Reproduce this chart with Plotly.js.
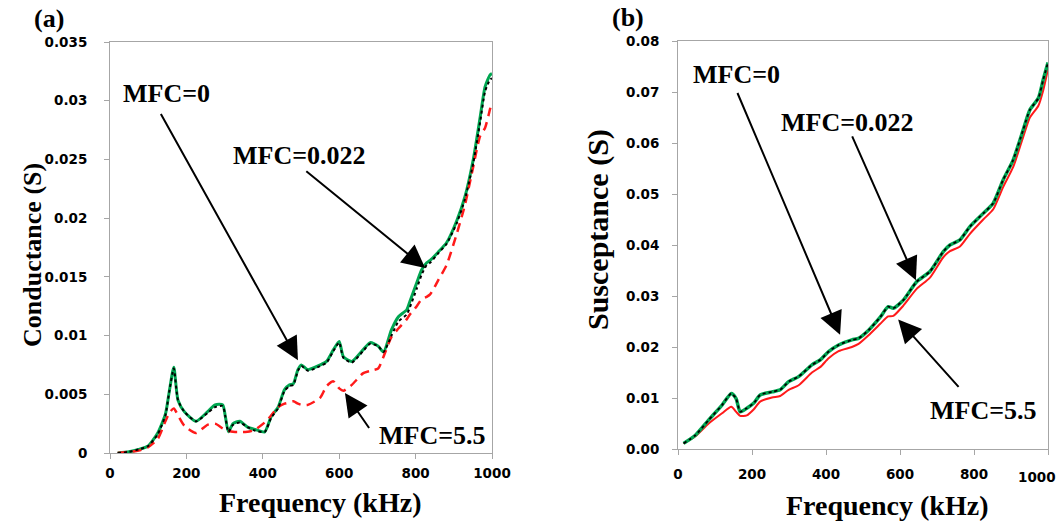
<!DOCTYPE html>
<html>
<head>
<meta charset="utf-8">
<script src="https://cdn.plot.ly/plotly-3.0.1.min.js"></script>
<style>html,body{margin:0;padding:0;background:#fff;}#chart{width:1059px;height:522px;}</style>
</head>
<body>
<div id="chart"></div>
<script>
// ---- Panel (a): Conductance ----
const freqA = [20,50,75,100,125,145,155,167,178,195,225,255,275,295,302,310,322,340,360,380,405,422,440,457,470,480,492,501,518,550,567,585,600,611,633,663,681,702,716,737,755,777,785,803,816,829,838,859,881,908,929,951,969,982,995,1000];
const condMFC022 = [0.0000,0.0001,0.0003,0.0006,0.0017,0.0033,0.0052,0.0073,0.0045,0.0035,0.0027,0.0035,0.0041,0.0041,0.0031,0.0018,0.0025,0.0027,0.0022,0.0020,0.0018,0.0031,0.0039,0.0054,0.0058,0.0059,0.0071,0.0075,0.0071,0.0075,0.0078,0.0088,0.0095,0.0082,0.0078,0.0088,0.0094,0.0091,0.0086,0.0105,0.0116,0.0122,0.0129,0.0145,0.0156,0.0162,0.0164,0.0171,0.0179,0.0198,0.0218,0.0250,0.0286,0.0312,0.0322,0.0323];
const condMFC0 = [0.0000,0.0001,0.0003,0.0006,0.0016,0.0032,0.0052,0.0072,0.0045,0.0035,0.0027,0.0034,0.0039,0.0040,0.0031,0.0018,0.0024,0.0026,0.0022,0.0019,0.0018,0.0030,0.0038,0.0053,0.0057,0.0058,0.0070,0.0074,0.0070,0.0074,0.0077,0.0087,0.0094,0.0081,0.0077,0.0087,0.0093,0.0091,0.0086,0.0100,0.0112,0.0118,0.0124,0.0140,0.0152,0.0160,0.0162,0.0170,0.0178,0.0196,0.0216,0.0247,0.0282,0.0308,0.0318,0.0319];
const condMFC55 = [0.0000,0.0001,0.0002,0.0005,0.0012,0.0027,0.0034,0.0038,0.0032,0.0023,0.0017,0.0024,0.0025,0.0021,0.0020,0.0019,0.0018,0.0018,0.0018,0.0020,0.0026,0.0032,0.0039,0.0042,0.0043,0.0044,0.0042,0.0041,0.0041,0.0047,0.0057,0.0061,0.0055,0.0053,0.0058,0.0068,0.0070,0.0072,0.0082,0.0099,0.0106,0.0114,0.0118,0.0125,0.0131,0.0133,0.0135,0.0147,0.0160,0.0187,0.0211,0.0244,0.0270,0.0277,0.0293,0.0299];

// ---- Panel (b): Susceptance ----
const freqB = [15,47,83,119,144,157,168,186,205,222,254,276,299,326,362,385,407,434,470,488,515,546,568,582,609,645,681,717,735,762,789,825,852,879,906,933,951,974,987,1000];
const suscMFC022 = [0.0011,0.0027,0.0057,0.0086,0.0109,0.0099,0.0073,0.0080,0.0090,0.0106,0.0112,0.0116,0.0132,0.0142,0.0165,0.0175,0.0191,0.0204,0.0214,0.0217,0.0233,0.0258,0.0279,0.0276,0.0292,0.0328,0.0348,0.0387,0.0400,0.0410,0.0436,0.0462,0.0482,0.0528,0.0567,0.0626,0.0665,0.0688,0.0724,0.0758];
const suscMFC0 = [0.0011,0.0027,0.0057,0.0086,0.0109,0.0099,0.0073,0.0080,0.0090,0.0106,0.0112,0.0116,0.0132,0.0142,0.0165,0.0175,0.0191,0.0204,0.0214,0.0217,0.0233,0.0258,0.0279,0.0276,0.0292,0.0328,0.0348,0.0387,0.0400,0.0410,0.0436,0.0462,0.0482,0.0528,0.0567,0.0626,0.0665,0.0688,0.0724,0.0758];
const suscMFC55 = [0.0011,0.0025,0.0050,0.0070,0.0083,0.0073,0.0065,0.0066,0.0078,0.0093,0.0101,0.0104,0.0116,0.0125,0.0150,0.0161,0.0178,0.0192,0.0200,0.0206,0.0223,0.0245,0.0260,0.0261,0.0281,0.0314,0.0336,0.0376,0.0388,0.0397,0.0422,0.0450,0.0470,0.0514,0.0553,0.0612,0.0650,0.0673,0.0703,0.0745];

const xTickVals = [0,200,400,600,800,1000];
const xTickText = ['0','200','400','600','800','1000'];
const xTickTextB = ['0','200','400','600','800',''];
const lastTickB = '1000';
const yTickValsA = [0,0.005,0.01,0.015,0.02,0.025,0.03,0.035];
const yTickTextA = ['0','0.005','0.01','0.015','0.02','0.025','0.03','0.035'];
const yTickValsB = [0,0.01,0.02,0.03,0.04,0.05,0.06,0.07,0.08];
const yTickTextB = ['0.00','0.01','0.02','0.03','0.04','0.05','0.06','0.07','0.08'];

const GREEN = '#00a651', RED = '#ff1a1a', BLACK = '#000000';
const sp = {shape:'spline', smoothing:0.6};

const traces = [
  {x:freqA, y:condMFC022, xaxis:'x', yaxis:'y', mode:'lines', line:Object.assign({color:GREEN, width:3}, sp), name:'MFC=0.022'},
  {x:freqA, y:condMFC55, xaxis:'x', yaxis:'y', mode:'lines', line:Object.assign({color:RED, width:2.5, dash:'9px,6px'}, sp), name:'MFC=5.5'},
  {x:freqA, y:condMFC0, xaxis:'x', yaxis:'y', mode:'lines', line:Object.assign({color:BLACK, width:2, dash:'dot'}, sp), name:'MFC=0'},
  {x:freqB, y:suscMFC55, xaxis:'x2', yaxis:'y2', mode:'lines', line:Object.assign({color:RED, width:2}, sp), name:'MFC=5.5'},
  {x:freqB, y:suscMFC022, xaxis:'x2', yaxis:'y2', mode:'lines', line:Object.assign({color:GREEN, width:3.5}, sp), name:'MFC=0.022'},
  {x:freqB, y:suscMFC0, xaxis:'x2', yaxis:'y2', mode:'lines', line:Object.assign({color:BLACK, width:1.8, dash:'dot'}, sp), name:'MFC=0'}
];

const W = 1059, H = 522;
const px = v => v / W, py = v => 1 - v / H;
const tickFont = {family:'DejaVu Sans', size:13.5, color:'#000', weight:'bold'};
const axisCommon = {showline:true, mirror:true, linecolor:'#a6a6a6', linewidth:1, ticks:'outside', ticklen:5, tickcolor:'#a6a6a6', showgrid:false, zeroline:false, tickfont:tickFont, fixedrange:true};

const titleFont = s => ({family:'Liberation Serif, Times New Roman, serif', size:s, color:'#000', weight:'bold'});
function label(text, x, y, size, ref, angle) {
  const a = {text:text, showarrow:false, font:titleFont(size), xanchor:'center', yanchor:'middle'};
  if (ref === 'paper') { a.xref='paper'; a.yref='paper'; a.x=px(x); a.y=py(y); }
  else { a.xref=ref[0]; a.yref=ref[1]; a.x=x; a.y=y; }
  if (angle) a.textangle = angle;
  return a;
}
function arrow(xr, yr, tailX, tailY, tipX, tipY) {
  return {xref:xr, yref:yr, axref:xr, ayref:yr, x:tipX, y:tipY, ax:tailX, ay:tailY, text:'', showarrow:true,
          arrowhead:2, arrowsize:2.3, arrowwidth:2, arrowcolor:'#000', standoff:0, startstandoff:0};
}

const annotations = [
  label('(a)', 49, 19, 26, 'paper'),
  label('(b)', 628, 17, 26, 'paper'),
  label('Conductance (S)', 32, 255, 26, 'paper', -90),
  label('Susceptance (S)', 598, 230, 30, 'paper', -90),
  label('Frequency (kHz)', 320, 502, 28, 'paper'),
  label('Frequency (kHz)', 887, 505, 28, 'paper'),
  {text:lastTickB, showarrow:false, xref:'paper', yref:'paper', x:px(1058), y:py(477), xanchor:'right', yanchor:'middle', font:tickFont},
  label('MFC=0', 149, 0.0306, 26, ['x','y']),
  label('MFC=0.022', 495, 0.0253, 26, ['x','y']),
  label('MFC=5.5', 843, 0.0015, 26, ['x','y']),
  arrow('x','y', 131, 0.0290, 492, 0.0079),
  arrow('x','y', 510, 0.0241, 825, 0.01575),
  arrow('x','y', 681, 0.0020, 615, 0.0051),
  label('MFC=0', 157, 0.0735, 26, ['x2','y2']),
  label('MFC=0.022', 457, 0.0641, 26, ['x2','y2']),
  label('MFC=5.5', 827, 0.0075, 26, ['x2','y2']),
  arrow('x2','y2', 159, 0.0701, 438, 0.0224),
  arrow('x2','y2', 469, 0.0616, 643, 0.0331),
  arrow('x2','y2', 762, 0.0119, 595, 0.0254)
];

const layout = {
  width:W, height:H, margin:{l:0,r:0,t:0,b:0}, paper_bgcolor:'#fff', plot_bgcolor:'#fff', showlegend:false,
  xaxis:Object.assign({}, axisCommon, {domain:[px(110), px(492)], range:[0,1000], tickvals:xTickVals, ticktext:xTickText, anchor:'y', ticklabelstandoff:3}),
  yaxis:Object.assign({}, axisCommon, {domain:[py(453), py(42)], range:[0,0.035], tickvals:yTickValsA, ticktext:yTickTextA, anchor:'x', ticklabelstandoff:14}),
  xaxis2:Object.assign({}, axisCommon, {domain:[px(678), px(1048)], range:[0,1000], tickvals:xTickVals, ticktext:xTickTextB, anchor:'y2', ticklabelstandoff:8}),
  yaxis2:Object.assign({}, axisCommon, {domain:[py(449), py(41)], range:[0,0.08], tickvals:yTickValsB, ticktext:yTickTextB, anchor:'x2', ticklabelstandoff:10}),
  annotations:annotations
};

Plotly.newPlot('chart', traces, layout, {staticPlot:true, displayModeBar:false});
</script>
</body>
</html>
